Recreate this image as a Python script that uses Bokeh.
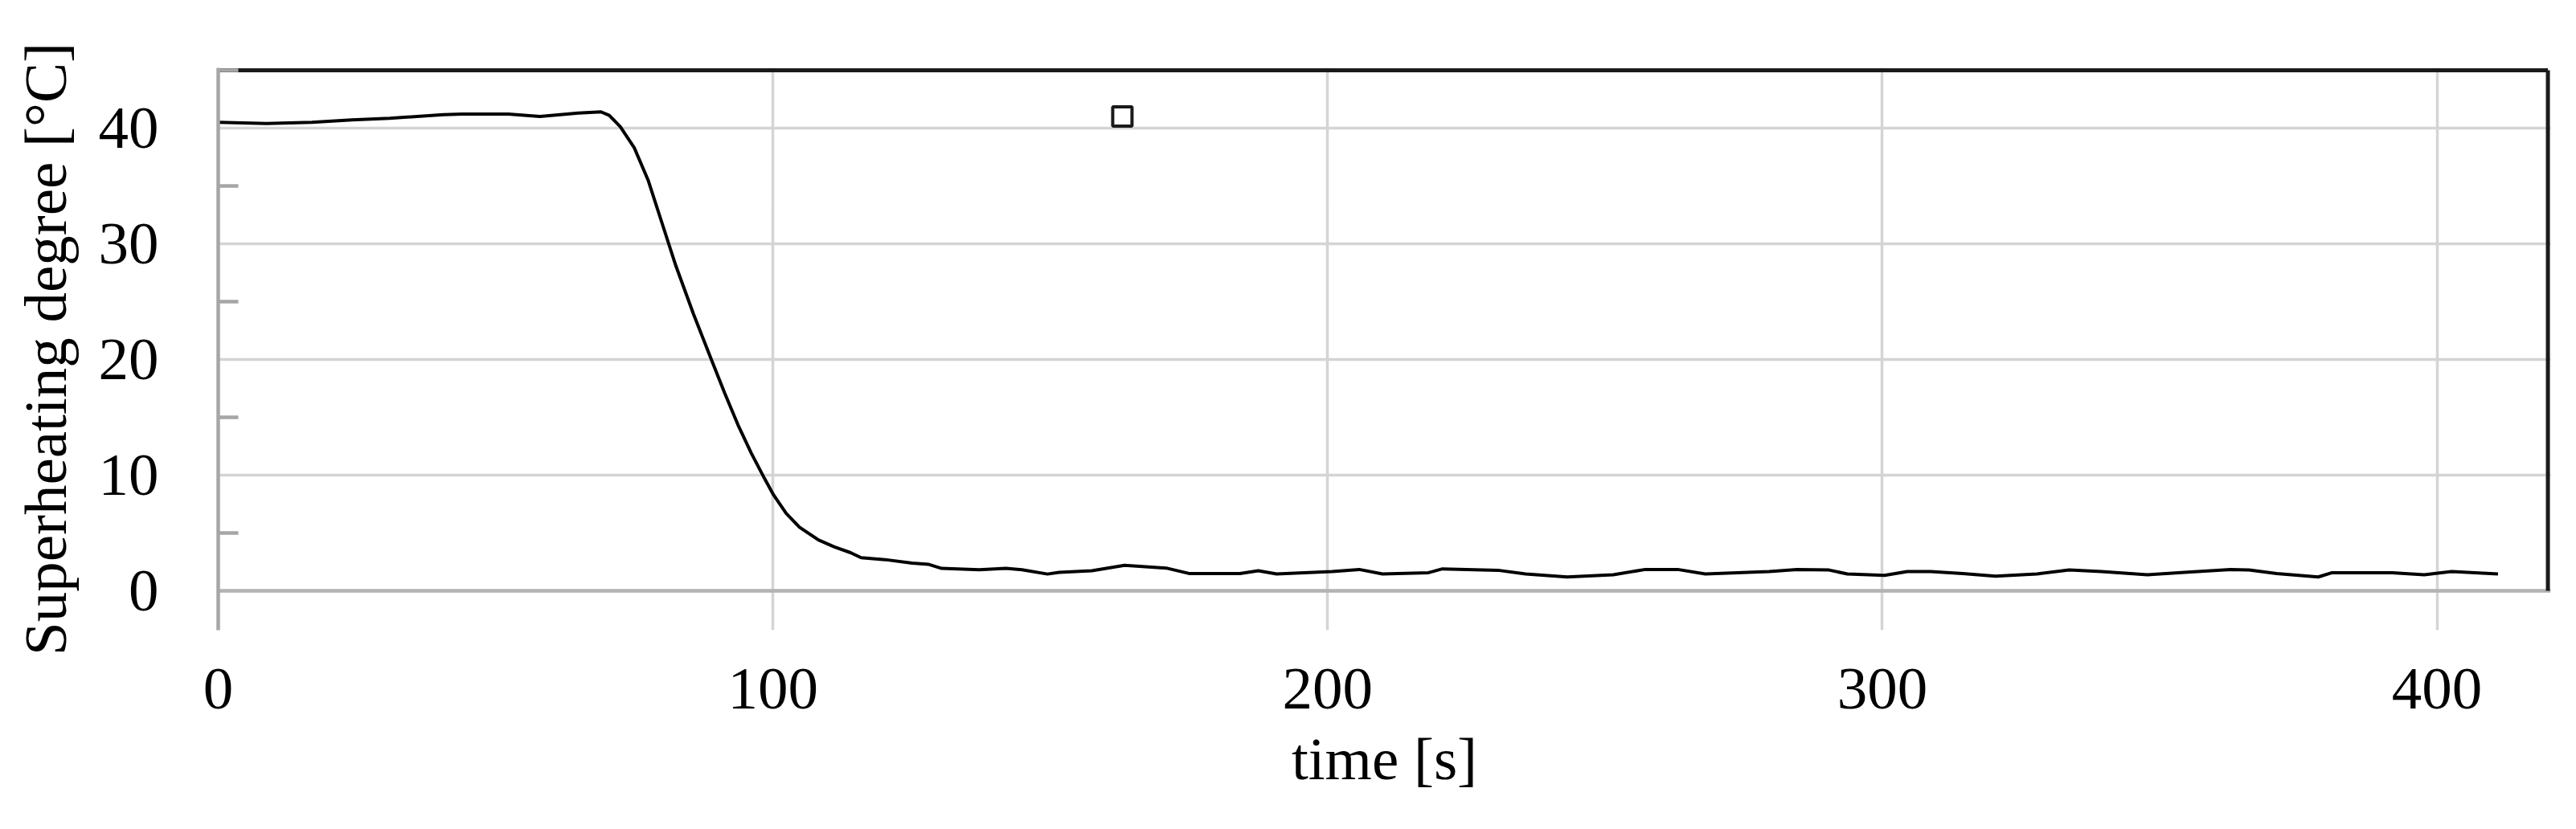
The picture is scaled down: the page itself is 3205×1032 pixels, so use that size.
from bokeh.plotting import figure
from bokeh.models import FixedTicker, Range1d, Span
from bokeh.embed import file_html
from bokeh.resources import INLINE

# ---- data ----
time_s = [0, 8.7, 16.9, 24.1, 30.9, 40.6, 44, 52.3, 58, 64.9, 69, 70.5, 72.5, 75, 77.5,
          80, 82.5, 85.7, 88.9, 91.3, 93.7, 96.1, 98.5, 100.1, 102.4, 104.8, 108.2,
          111.1, 114.0, 115.9, 120.2, 125.1, 128.0, 130.4, 137.2, 142.0, 144.9, 149.5,
          151.6, 157.5, 163.4, 170.9, 175.0, 184.2, 187.5, 190.8, 200.8, 205.7, 209.9,
          218.2, 220.7, 230.7, 235.7, 243.2, 251.5, 257.3, 263.1, 268.1, 279.6, 284.6,
          290.4, 293.7, 300.4, 304.5, 308.7, 314.5, 320.4, 327.9, 333.7, 339.5, 347.8,
          354.5, 362.8, 366.1, 371.1, 378.6, 381.1, 391.9, 397.7, 402.7, 411]
superheat = [40.5, 40.4, 40.5, 40.7, 40.85, 41.15, 41.2, 41.2, 41.0, 41.3, 41.4, 41.1, 40.1,
             38.3, 35.5, 31.8, 28.1, 23.9, 20.0, 17.1, 14.35, 11.9, 9.7, 8.3, 6.7, 5.5, 4.4,
             3.8, 3.3, 2.87, 2.7, 2.4, 2.3, 1.94, 1.83, 1.94, 1.83, 1.45,
             1.6, 1.74, 2.2, 1.97, 1.5, 1.5, 1.74, 1.46, 1.67, 1.85, 1.46,
             1.57, 1.9, 1.78, 1.46, 1.2, 1.39, 1.85, 1.85, 1.46, 1.67, 1.85,
             1.8, 1.46, 1.34, 1.67, 1.67, 1.5, 1.27, 1.46, 1.8, 1.67, 1.39,
             1.6, 1.85, 1.8, 1.5, 1.2, 1.57, 1.57, 1.39, 1.67, 1.46]
marker_t = [163]
marker_v = [41]

x_ticks = [0, 100, 200, 300, 400]
y_ticks = [0, 10, 20, 30, 40]
y_minor = [5, 15, 25, 35, 45]
x_max = 420
y_top = 45

FONT = "Liberation Serif"
FS = "75px"

p = figure(width=3189, height=1016, title=None,
           x_range=Range1d(0, 420.5), y_range=Range1d(-3.4, 45.2),
           output_backend="svg", toolbar_location=None,
           min_border_left=271, min_border_right=16,
           min_border_top=84, min_border_bottom=232)
p.outline_line_color = None
p.background_fill_color = "white"
p.border_fill_color = "white"

# grids
p.xgrid.ticker = FixedTicker(ticks=x_ticks)
p.ygrid.ticker = FixedTicker(ticks=y_ticks)
for g in (p.xgrid, p.ygrid):
    g.grid_line_color = "#d4d4d4"
    g.grid_line_width = 3.5

# horizontal axis line at zero
p.add_layout(Span(location=0, dimension="width", line_color="#b3b3b3",
                  line_width=4.5, level="underlay"))

# black frame (top and right)
p.segment(x0=[0, x_max], y0=[y_top, y_top], x1=[x_max, x_max], y1=[y_top, 0],
          line_color="#1a1a1a", line_width=5)

# data
p.line(time_s, superheat, line_color="black", line_width=4)
p.scatter(marker_t, marker_v, marker="square", size=24, fill_color="white",
          line_color="#1a1a1a", line_width=4)

# x axis
xa = p.xaxis[0]
xa.ticker = FixedTicker(ticks=x_ticks)
xa.axis_line_color = None
xa.major_tick_line_color = None
xa.minor_tick_line_color = None
xa.major_label_standoff = 42
xa.axis_label = "time [s]"
xa.axis_label_standoff = 18

# y axis
ya = p.yaxis[0]
ya.ticker = FixedTicker(ticks=y_ticks, minor_ticks=y_minor)
ya.axis_line_color = "#a6a6a6"
ya.axis_line_width = 4.5
ya.major_tick_line_color = None
ya.minor_tick_line_color = "#a6a6a6"
ya.minor_tick_line_width = 4.5
ya.minor_tick_in = 25
ya.minor_tick_out = 0
ya.major_label_standoff = 68
ya.axis_label = "Superheating degree [°C]"
ya.axis_label_standoff = 22

for ax in (xa, ya):
    ax.major_label_text_font = FONT
    ax.major_label_text_font_size = FS
    ax.major_label_text_color = "black"
    ax.axis_label_text_font = FONT
    ax.axis_label_text_font_size = FS
    ax.axis_label_text_font_style = "normal"
    ax.axis_label_text_color = "black"

open("out.html", "w").write(file_html(p, INLINE))
